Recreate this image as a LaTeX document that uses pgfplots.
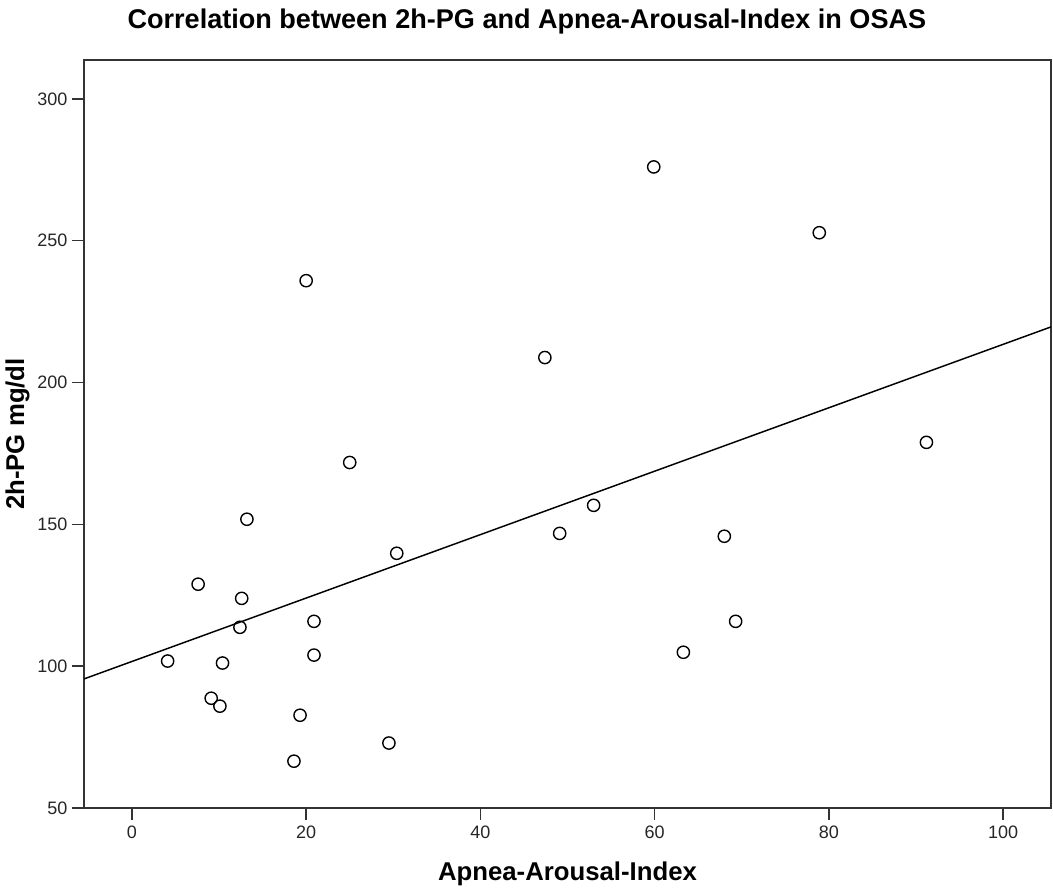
\documentclass[border=0pt]{standalone}
\usepackage{fontspec}
\setmainfont{Liberation Sans}
\usepackage{pgfplots}
\pgfplotsset{compat=1.18}
\usetikzlibrary{calc}

% points (x = apnea-arousal-index, y = 2h-PG)
\begin{document}
\begin{tikzpicture}
\begin{axis}[
    name=main,
    scale only axis,
    width=725.25pt, height=561pt,
    xmin=-5.5, xmax=105.5,
    ymin=50, ymax=313.7,
    xtick={0,20,...,100},
    ytick={50,100,...,300},
    axis line style={draw=black!80, line width=1.1pt},
    tick style={draw=black!80, line width=1.1pt},
    tick align=outside,
    major tick length=9pt,
    xtick pos=bottom, ytick pos=left,
    tick label style={font=\fontsize{13.5}{16}\selectfont, text=black!85},
    xticklabel style={yshift=-1pt},
    /pgf/number format/assume math mode=true,
    every axis title shift=0pt,
    title={Correlation between 2h-PG and Apnea-Arousal-Index in OSAS},
    title style={font=\bfseries\fontsize{20.3}{24}\selectfont, at={(axis description cs:0.458,1.0508)}, anchor=center},
    xlabel={Apnea-Arousal-Index},
    xlabel style={font=\bfseries\fontsize{19.3}{23}\selectfont, at={(axis description cs:0.5,-0.0882)}, anchor=center},
    ylabel={2h-PG mg/dl},
    ylabel style={font=\bfseries\fontsize{19.3}{23}\selectfont, at={(axis description cs:-0.0688,0.5)}, anchor=center},
]

\addplot[only marks, mark=o, mark size=4.6pt, mark options={draw=black, line width=1.05pt, fill=white}]
    coordinates {
        (59.9, 276.0) (78.9, 252.8) (20.0, 235.9) (47.4, 208.8) (91.2, 178.9)
        (25.0, 171.8) (13.2, 151.8) (53.0, 156.7) (49.1, 146.8) (30.4, 139.8)
        (68.0, 145.8) (7.6, 128.9)  (12.6, 123.9) (12.4, 113.7) (20.9, 115.8)
        (69.3, 115.8) (20.9, 103.9) (63.3, 104.9) (4.1, 101.8)  (10.4, 101.1)
        (9.1, 88.7)   (10.1, 85.9)  (19.3, 82.7)  (29.5, 72.9)  (18.6, 66.5)
    };

% linear fit
\addplot[black, line width=1.1pt] coordinates {(-5.5, 95.5) (105.5, 219.6)};

\end{axis}
\pgfresetboundingbox
\path[use as bounding box] ($(main.south west)+(-63pt,-61.5pt)$) rectangle ($(main.north east)+(1.5pt,45pt)$);
\end{tikzpicture}
\end{document}
